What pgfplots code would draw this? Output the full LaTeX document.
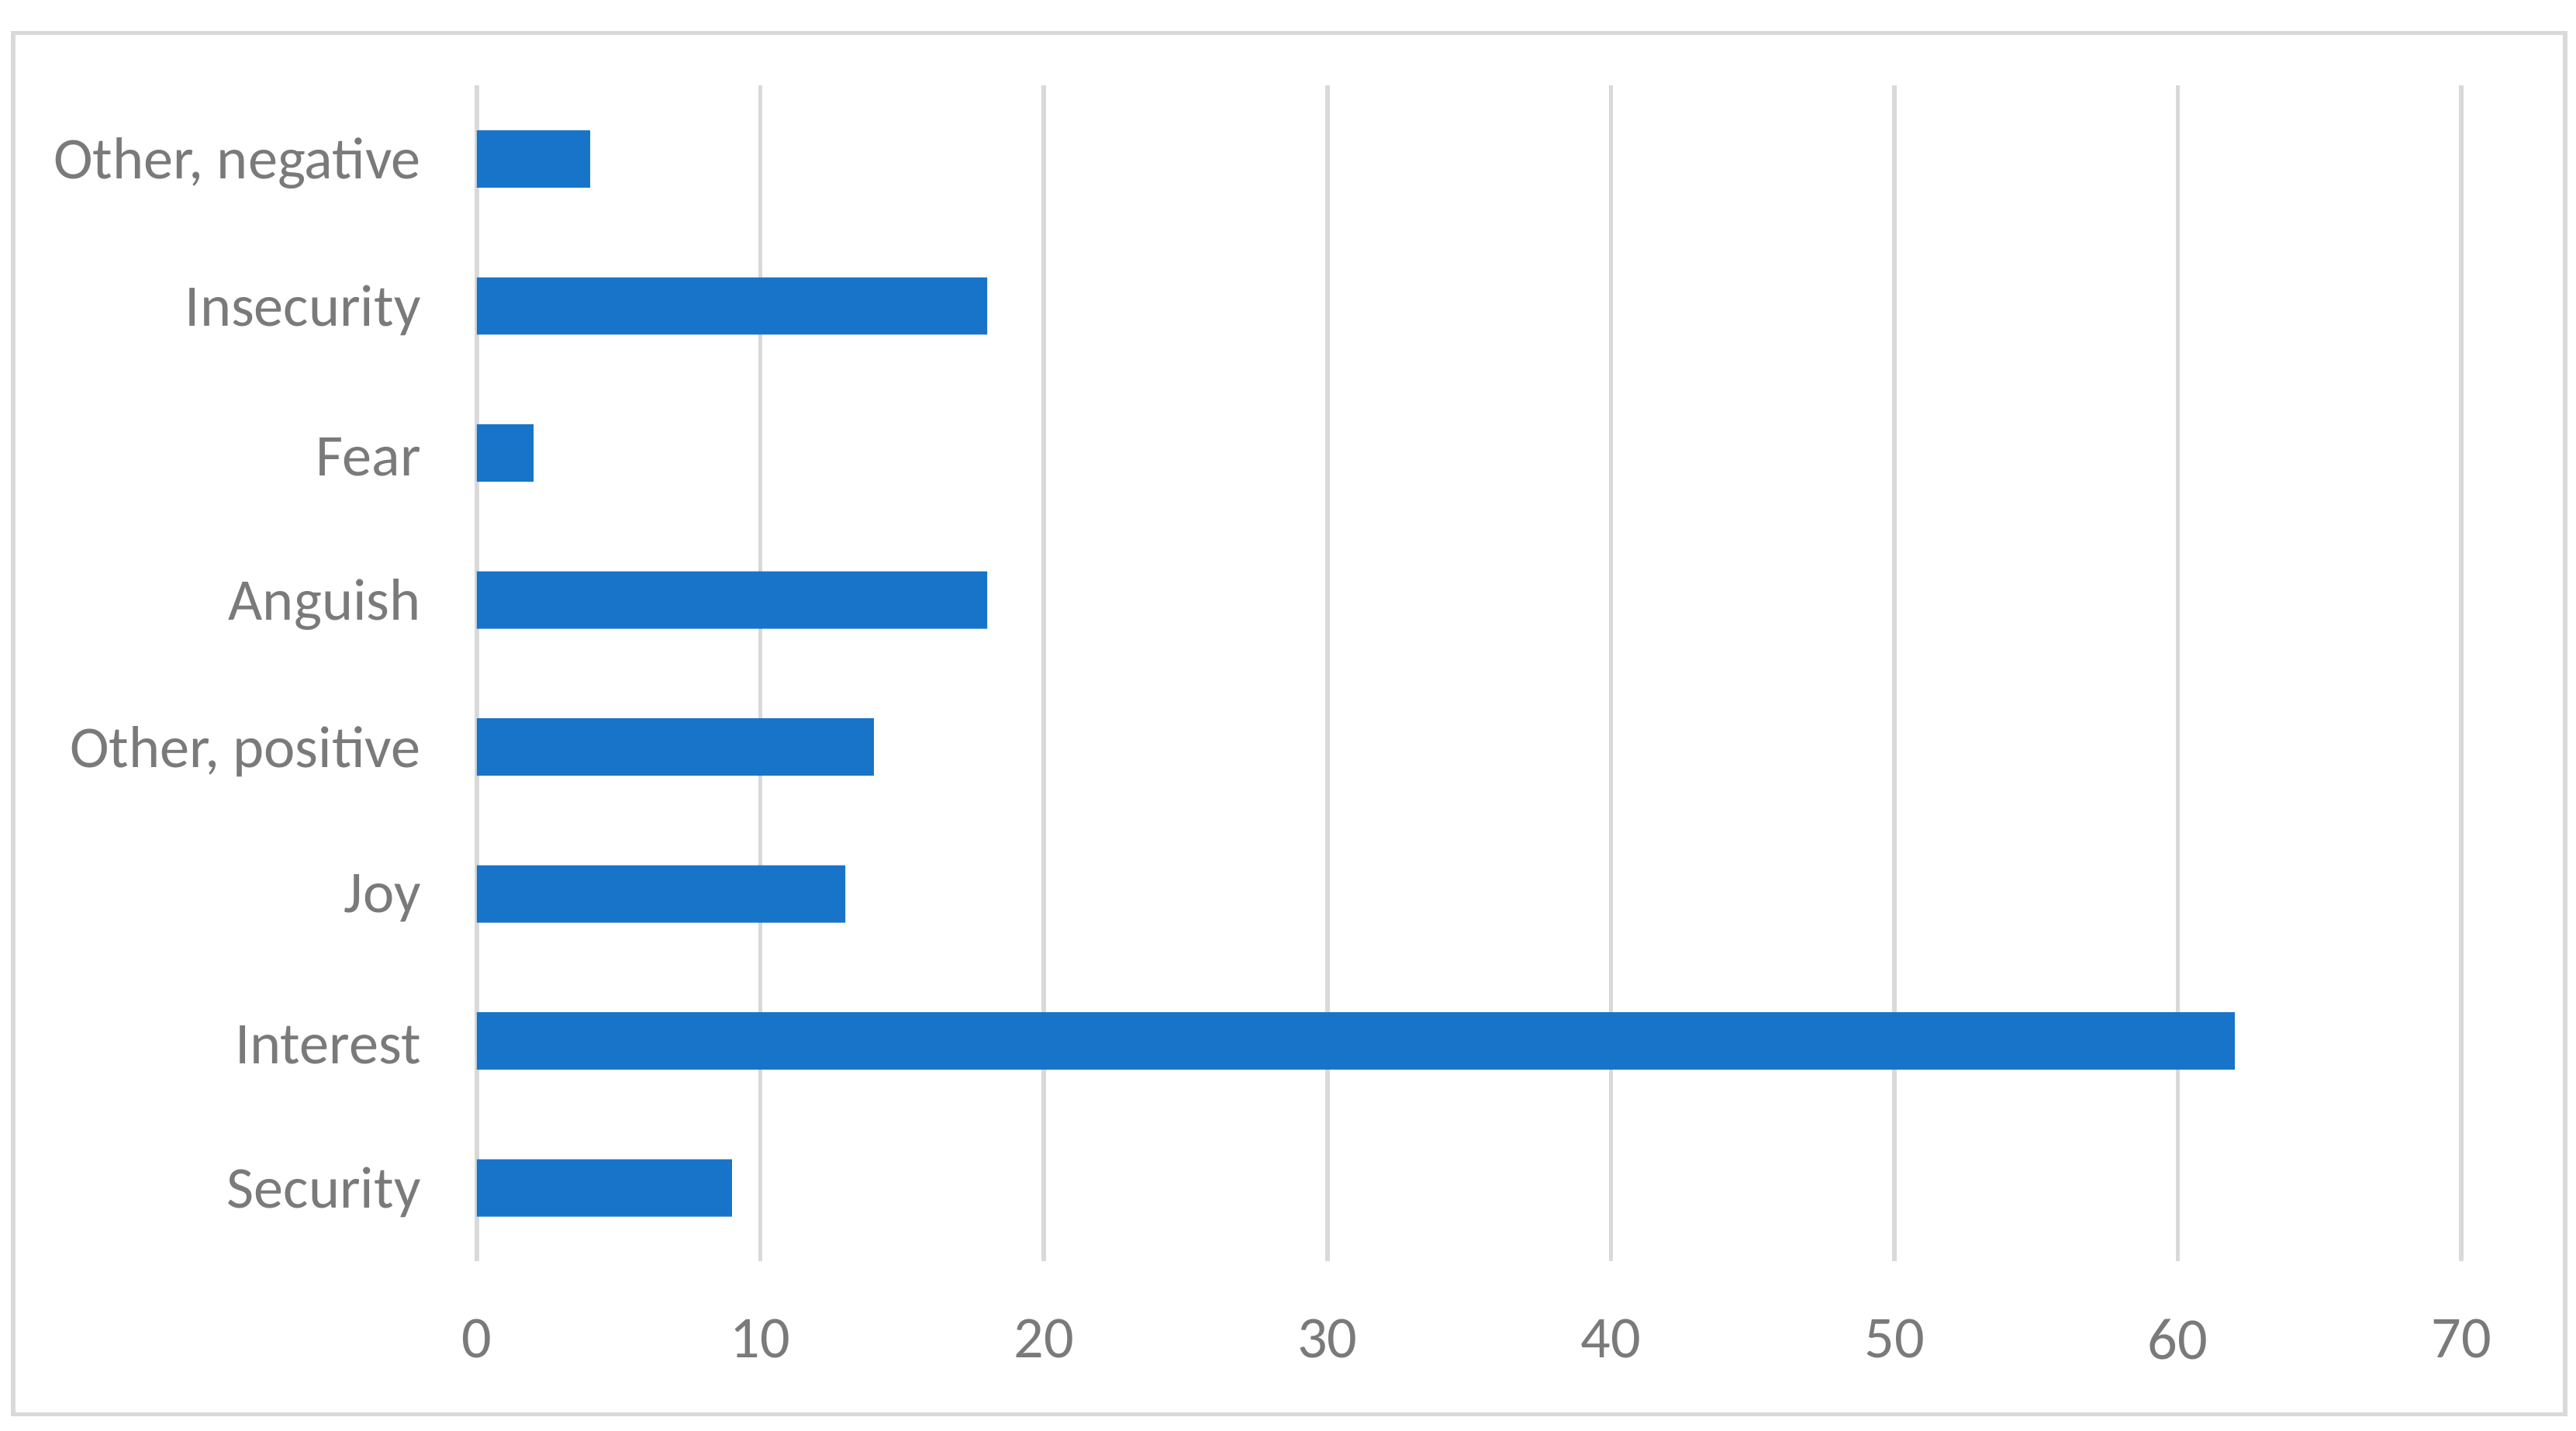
\documentclass[border=0pt]{standalone}
\usepackage{fontspec}
\setmainfont{Carlito}
\usepackage{pgfplots}
\pgfplotsset{compat=1.18}
\definecolor{barblue}{HTML}{1874C8}
\definecolor{gridgray}{HTML}{D9D9D9}
\definecolor{labelgray}{HTML}{7A7A7A}

\begin{document}
\begin{tikzpicture}
\begin{axis}[
  scale only axis,
  width=362.1pt,
  height=214.5pt,
  xbar,
  bar width=0.39,
  xmin=0, xmax=70,
  ymin=-0.5, ymax=7.5,
  xtick={0,10,...,70},
  ytick={0,...,7},
  yticklabels={Security,Interest,Joy,{Other, positive},Anguish,Fear,Insecurity,{Other, negative}},
  xmajorgrids=true,
  major grid style={line width=0.8pt, draw=gridgray},
  axis line style={draw=none},
  major tick length=0pt,
  tick label style={font=\fontsize{10.8}{12}\selectfont, text=labelgray},
  /pgf/number format/assume math mode=true,
  yticklabel style={xshift=-6.7pt, yshift=-0.8pt},
  xticklabel style={yshift=-7pt},
]
  \addplot[fill=barblue, draw=none] coordinates {
    (9,0)
    (62,1)
    (13,2)
    (14,3)
    (18,4)
    (2,5)
    (18,6)
    (4,7)
  };
\end{axis}
\draw[gridgray, line width=0.8pt] (-84.6pt,-27.9pt) rectangle (381pt,224.1pt);
\pgfresetboundingbox
\path (-87pt,-30.9pt) rectangle (383pt,230.1pt);
\end{tikzpicture}
\end{document}
